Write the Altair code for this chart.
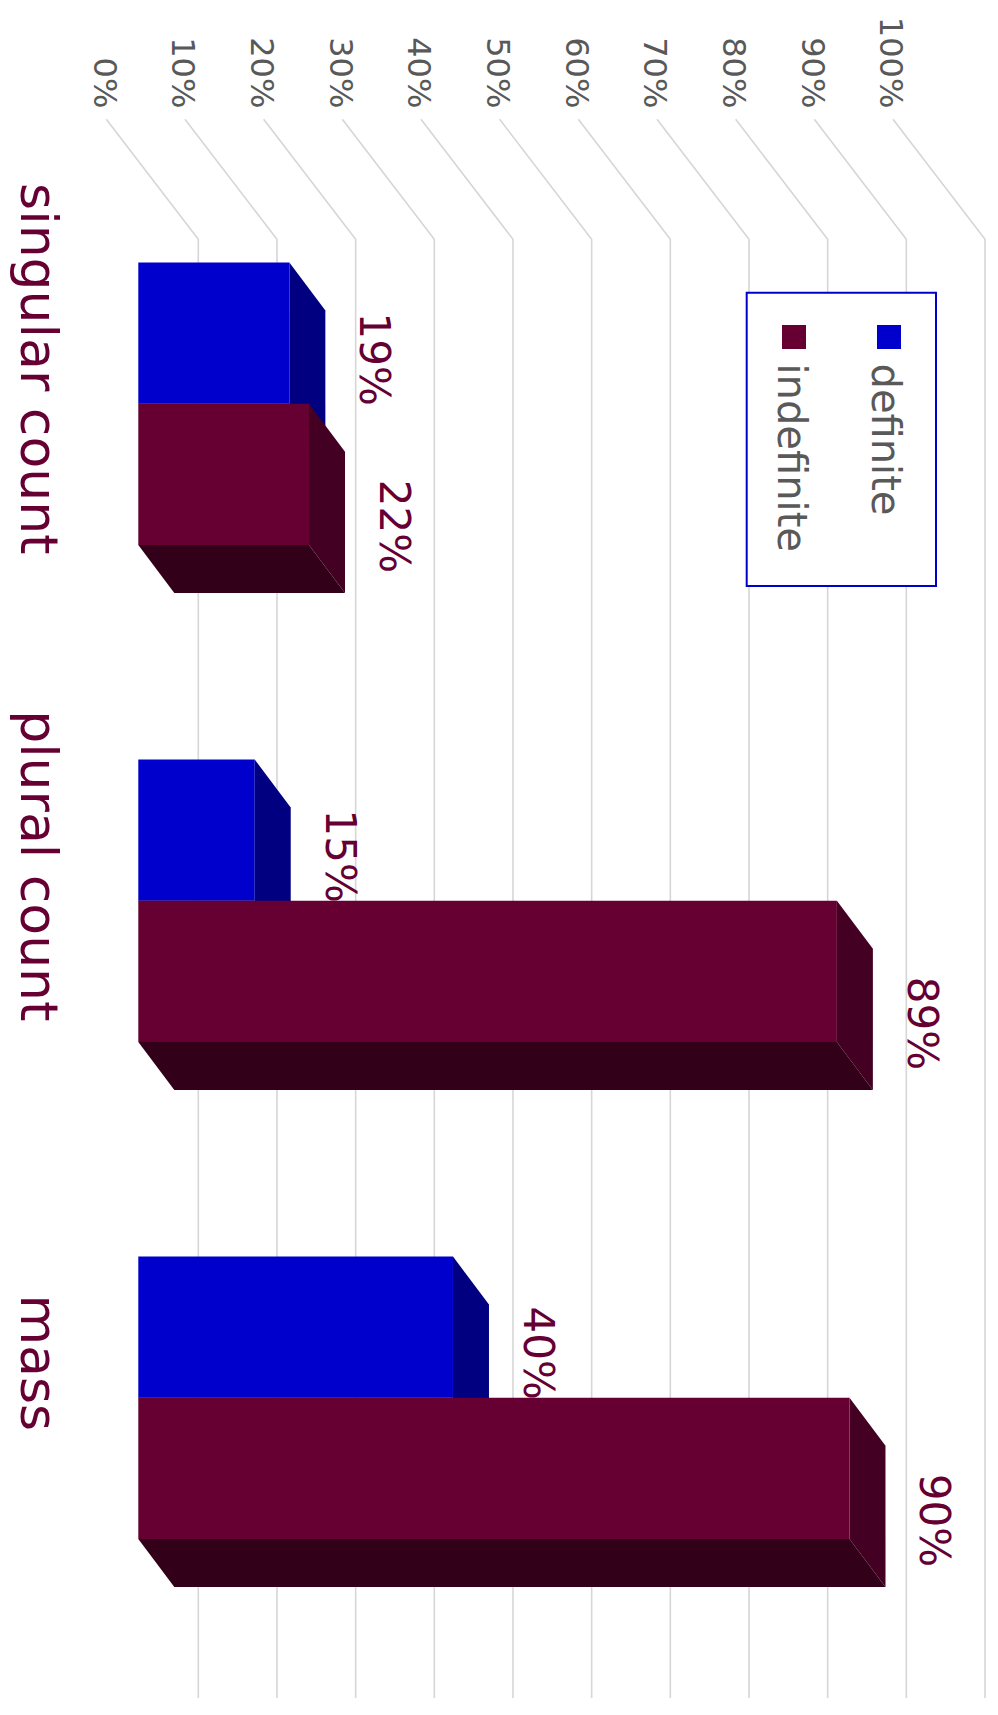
import altair as alt
import pandas as pd

# ---------------- data ----------------
categories = ["singular count", "plural count", "mass"]
series = ["definite", "indefinite"]
definite = [19.2, 14.8, 40.0]
indefinite = [21.7, 88.8, 90.4]
ticks = [0, 10, 20, 30, 40, 50, 60, 70, 80, 90, 100]
tick_labels = ["0%", "10%", "20%", "30%", "40%", "50%", "60%", "70%", "80%", "90%", "100%"]

front_colors = ["#0000cc", "#660033"]
side_colors = ["#000080", "#440022"]
bottom_colors = ["#000066", "#33001a"]
label_color = "#660033"
grey_text = "#595959"
grid_color = "#d6d6d6"
FONT = "DejaVu Sans"

# ---------------- geometry (pixels -> data units) ----------------
W, H = 982, 1690
PX_PER_PCT = 7.867          # pixels per percentage point
CAT_PX = 497.0              # pixels per category step
X0 = 130.3                  # view x of 0 %
Y0 = 395.8                  # view y of first category centre
XMIN, XMAX = -X0 / PX_PER_PCT, (W - X0) / PX_PER_PCT
YMIN, YMAX = -Y0 / CAT_PX, (H - Y0) / CAT_PX


def dxp(px):
    return px / PX_PER_PCT


def dyp(px):
    return px / CAT_PX


BAR = dyp(141.2)
DX, DY = dxp(36), dyp(48)
BACK = dxp(60)
DIAG_X = dxp(-32)
DIAG_TOP = (111.3 - Y0) / CAT_PX
BACK_TOP = (231.3 - Y0) / CAT_PX
BOTTOM = YMAX

xs = alt.Scale(domain=[XMIN, XMAX], nice=False, zero=False)
ys = alt.Scale(domain=[YMIN, YMAX], nice=False, zero=False, reverse=True)


def X(f):
    return alt.X(f, type="quantitative", scale=xs, axis=None)


def Y(f):
    return alt.Y(f, type="quantitative", scale=ys, axis=None)


# ---------------- grid ----------------
grid_rows = []
for t in ticks:
    grid_rows.append({"t": t, "k": 0, "x": t + DIAG_X, "y": DIAG_TOP})
    grid_rows.append({"t": t, "k": 1, "x": t + BACK, "y": BACK_TOP})
    grid_rows.append({"t": t, "k": 2, "x": t + BACK, "y": BOTTOM})
grid_df = pd.DataFrame(grid_rows)
grid = alt.Chart(grid_df).mark_line(color=grid_color, strokeWidth=1.6).encode(
    x=X("x"), y=Y("y"), detail="t:N", order=alt.Order("k:Q")
)

tick_df = pd.DataFrame({
    "t": ticks,
    "label": tick_labels,
})
tick_df["x"] = tick_df["t"] + DIAG_X + dxp(-12.7)
tick_df["y"] = (100.3 - Y0) / CAT_PX
tick_text = alt.Chart(tick_df).mark_text(
    angle=90, align="right", baseline="alphabetic", fontSize=32, font=FONT, color=grey_text
).encode(x=X("x"), y=Y("y"), text="label:N")

# ---------------- bars ----------------
values = {"definite": definite, "indefinite": indefinite}
layers = [grid, tick_text]
for s_i, s in enumerate(series):
    front, side, bottom, labs = [], [], [], []
    for c_i, c in enumerate(categories):
        v = values[s][c_i]
        ytop = c_i - BAR + s_i * BAR
        ybot = ytop + BAR
        front.append({"cat": c, "x": 0.0, "x2": v, "y": ytop, "y2": ybot})
        side.append({"cat": c, "x": v, "y": ytop, "y2": ybot})
        side.append({"cat": c, "x": v + DX, "y": ytop + DY, "y2": ybot + DY})
        bottom.append({"cat": c, "y": ybot, "x": 0.0, "x2": v})
        bottom.append({"cat": c, "y": ybot + DY, "x": DX, "x2": v + DX})
        labs.append({
            "cat": c,
            "x": v + DX + dxp(35),
            "y": (ytop + ybot) / 2 + dyp(26 if s_i == 0 else 52),
            "text": f"{v:.0f}%",
        })
    f_layer = alt.Chart(pd.DataFrame(front)).mark_rect(color=front_colors[s_i]).encode(
        x=X("x"), x2="x2", y=Y("y"), y2="y2"
    )
    s_layer = alt.Chart(pd.DataFrame(side)).mark_area(orient="vertical", color=side_colors[s_i]).encode(
        x=X("x"), y=Y("y"), y2="y2", detail="cat:N"
    )
    b_layer = alt.Chart(pd.DataFrame(bottom)).mark_area(orient="horizontal", color=bottom_colors[s_i]).encode(
        y=Y("y"), x=X("x"), x2="x2", detail="cat:N"
    )
    l_layer = alt.Chart(pd.DataFrame(labs)).mark_text(
        angle=90, align="center", baseline="alphabetic", fontSize=42, font=FONT, color=label_color
    ).encode(x=X("x"), y=Y("y"), text="text:N")
    layers += [f_layer, s_layer, b_layer, l_layer]

# ---------------- category labels ----------------
cat_df = pd.DataFrame({"cat": categories, "i": list(range(len(categories)))})
cat_df["x"] = dxp(13 - X0)
cat_df["y"] = cat_df["i"] + dyp(-35)
cat_text = alt.Chart(cat_df).mark_text(
    angle=90, align="center", baseline="alphabetic", fontSize=52, font=FONT, color=label_color
).encode(x=X("x"), y=Y("y"), text="cat:N")
layers.append(cat_text)

# ---------------- legend (drawn, rotated) ----------------
leg_box = alt.Chart(pd.DataFrame({"a": [0]})).mark_rect(
    fill="white", stroke="#0000cc", strokeWidth=2
).encode(x=alt.value(738.7), x2=alt.value(928), y=alt.value(284.7), y2=alt.value(578))
leg_df = pd.DataFrame({"series": series, "i": [0, 1], "color": front_colors})
leg_df["sx"] = 881 - 95 * leg_df["i"]
leg_df["tx"] = 864 - 94 * leg_df["i"]
leg_df["sy"] = 329
leg_df["ty"] = 355.5
leg_sq = alt.Chart(leg_df).mark_square(size=576, opacity=1).encode(
    x=alt.X("sx:Q", scale=None), y=alt.Y("sy:Q", scale=None),
    color=alt.Color("color:N", scale=None)
)
leg_tx = alt.Chart(leg_df).mark_text(
    angle=90, align="left", baseline="alphabetic", fontSize=40, font=FONT, color=grey_text
).encode(x=alt.X("tx:Q", scale=None), y=alt.Y("ty:Q", scale=None), text="series:N")
layers += [leg_box, leg_sq, leg_tx]

chart = alt.layer(*layers).properties(
    width=W, height=H, padding=0, autosize="none"
).configure_view(strokeWidth=0)

chart.save("out.html", embed_options={"renderer": "svg", "actions": False})
